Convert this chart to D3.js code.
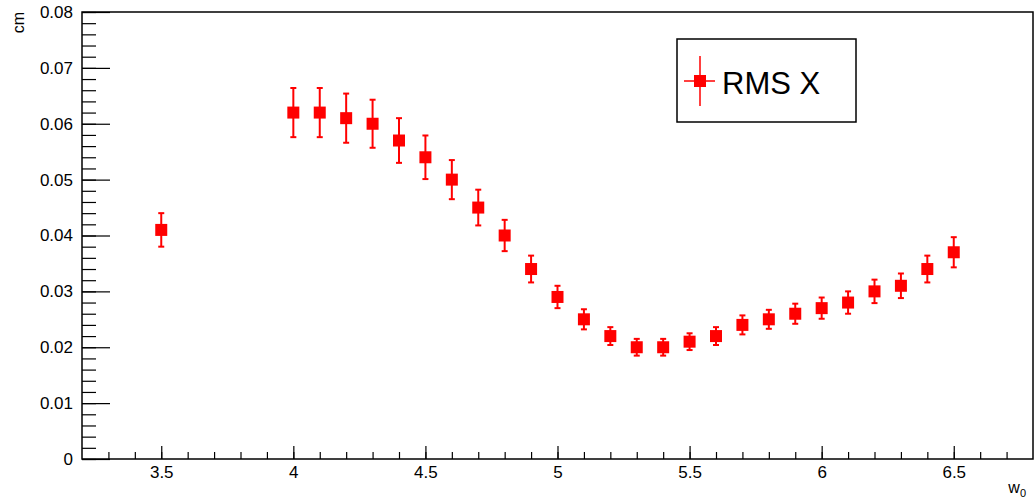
<!DOCTYPE html>
<html>
<head>
<meta charset="utf-8">
<script src="https://cdn.jsdelivr.net/npm/d3@7"></script>
<style>
  body { margin: 0; background: #fff; }
  text { font-family: "Liberation Sans", Arial, sans-serif; }
</style>
</head>
<body>
<div id="chart"></div>
<script>
// valeurs
var w0 = [3.5, 4.0, 4.1, 4.2, 4.3, 4.4, 4.5, 4.6, 4.7, 4.8, 4.9, 5.0, 5.1, 5.2, 5.3,
          5.4, 5.5, 5.6, 5.7, 5.8, 5.9, 6.0, 6.1, 6.2, 6.3, 6.4, 6.5];
var rmsX = [0.041, 0.062, 0.062, 0.061, 0.060, 0.057, 0.054, 0.050, 0.045, 0.040, 0.034,
            0.029, 0.025, 0.022, 0.020, 0.020, 0.021, 0.022, 0.024, 0.025, 0.026, 0.027,
            0.028, 0.030, 0.031, 0.034, 0.037];
var rmsErr = [0.0030, 0.0044, 0.0044, 0.0044, 0.0043, 0.0040, 0.0039, 0.0035, 0.0032,
              0.0028, 0.0024, 0.0020, 0.0018, 0.0016, 0.0015, 0.0015, 0.0015, 0.0016,
              0.0017, 0.0017, 0.0018, 0.0019, 0.0020, 0.0021, 0.0022, 0.0024, 0.0027];
var xTicks = [3.5, 4, 4.5, 5, 5.5, 6, 6.5];
var yTicks = [0, 0.01, 0.02, 0.03, 0.04, 0.05, 0.06, 0.07, 0.08];
var legendLabel = "RMS X";

var data = w0.map(function(d, i) { return {x: d, y: rmsX[i], e: rmsErr[i]}; });

var width = 1035, height = 498;
var frame = {left: 82, right: 1033, top: 12, bottom: 459};
var red = "#ff0000";

var svg = d3.select("#chart").append("svg")
    .attr("width", width)
    .attr("height", height);

var x = d3.scaleLinear().domain([3.2, 6.8]).range([frame.left, frame.right]);
var y = d3.scaleLinear().domain([0, 0.08]).range([frame.bottom, frame.top]);

// cadre
svg.append("rect")
    .attr("x", frame.left)
    .attr("y", frame.top)
    .attr("width", frame.right - frame.left)
    .attr("height", frame.bottom - frame.top)
    .attr("fill", "none")
    .attr("stroke", "#000")
    .attr("stroke-width", 1.5);

// Axe x : graduations mineures puis majeures
var xMinor = d3.range(33, 68).map(function(v) { return v / 10; });
svg.append("g")
    .attr("transform", `translate(0,${frame.bottom})`)
    .call(d3.axisBottom(x).tickValues(xMinor).tickSize(-7).tickFormat(""))
    .call(g => g.select(".domain").remove());
svg.append("g")
    .attr("class", "xaxis")
    .attr("transform", `translate(0,${frame.bottom})`)
    .call(d3.axisBottom(x).tickValues(xTicks).tickSize(-13).tickPadding(7)
        .tickFormat(d3.format("")))
    .call(g => g.select(".domain").remove());

// Axe y
var yMinor = d3.range(0, 41).map(function(v) { return v * 0.002; });
svg.append("g")
    .attr("transform", `translate(${frame.left},0)`)
    .call(d3.axisLeft(y).tickValues(yMinor).tickSize(-14).tickFormat(""))
    .call(g => g.select(".domain").remove());
svg.append("g")
    .attr("class", "yaxis")
    .attr("transform", `translate(${frame.left},0)`)
    .call(d3.axisLeft(y).tickValues(yTicks).tickSize(-28).tickPadding(9)
        .tickFormat(function(d) { return d === 0 ? "0" : d3.format(".2f")(d); }))
    .call(g => g.select(".domain").remove());

svg.selectAll(".tick line").attr("stroke", "#000").attr("stroke-width", 1.2);
svg.selectAll(".xaxis text, .yaxis text")
    .attr("font-size", "17px")
    .attr("fill", "#000")
    .style("font-family", "'Liberation Sans', Arial, sans-serif");
svg.selectAll(".yaxis .tick text").attr("x", -9);

// Titres des axes
svg.append("text")
    .attr("transform", "translate(24,12) rotate(-90)")
    .attr("text-anchor", "end")
    .attr("font-size", "16px")
    .text("cm");
var xt = svg.append("text")
    .attr("x", 1026)
    .attr("y", 493)
    .attr("text-anchor", "end")
    .attr("font-size", "16px")
    .text("w");
xt.append("tspan")
    .attr("font-size", "11px")
    .attr("dy", 4)
    .text("0");

// Barres d'erreur
var pts = svg.append("g");
var capW = 3;
pts.selectAll("line.err")
    .data(data)
    .enter().append("line")
    .attr("class", "err")
    .attr("x1", d => x(d.x)).attr("x2", d => x(d.x))
    .attr("y1", d => y(d.y + d.e)).attr("y2", d => y(d.y - d.e))
    .attr("stroke", red).attr("stroke-width", 2);
pts.selectAll("line.capTop")
    .data(data)
    .enter().append("line")
    .attr("class", "capTop")
    .attr("x1", d => x(d.x) - capW).attr("x2", d => x(d.x) + capW)
    .attr("y1", d => y(d.y + d.e)).attr("y2", d => y(d.y + d.e))
    .attr("stroke", red).attr("stroke-width", 2);
pts.selectAll("line.capBot")
    .data(data)
    .enter().append("line")
    .attr("class", "capBot")
    .attr("x1", d => x(d.x) - capW).attr("x2", d => x(d.x) + capW)
    .attr("y1", d => y(d.y - d.e)).attr("y2", d => y(d.y - d.e))
    .attr("stroke", red).attr("stroke-width", 2);

// Marqueurs carrés
var ms = 12;
pts.selectAll("rect")
    .data(data)
    .enter().append("rect")
    .attr("x", d => x(d.x) - ms / 2)
    .attr("y", d => y(d.y) - ms / 2)
    .attr("width", ms)
    .attr("height", ms)
    .attr("fill", red);

// Légende
var legend = svg.append("g").attr("transform", "translate(677,39)");
legend.append("rect")
    .attr("width", 179)
    .attr("height", 83)
    .attr("fill", "#fff")
    .attr("stroke", "#000")
    .attr("stroke-width", 1.5);
legend.append("line")
    .attr("x1", 7).attr("x2", 38).attr("y1", 42).attr("y2", 42)
    .attr("stroke", red).attr("stroke-width", 1.5);
legend.append("line")
    .attr("x1", 23).attr("x2", 23).attr("y1", 17).attr("y2", 67)
    .attr("stroke", red).attr("stroke-width", 1.5);
legend.append("rect")
    .attr("x", 23 - ms / 2).attr("y", 42 - ms / 2)
    .attr("width", ms).attr("height", ms)
    .attr("fill", red);
legend.append("text")
    .attr("x", 45)
    .attr("y", 55)
    .attr("font-size", "31px")
    .text(legendLabel);
</script>
</body>
</html>
